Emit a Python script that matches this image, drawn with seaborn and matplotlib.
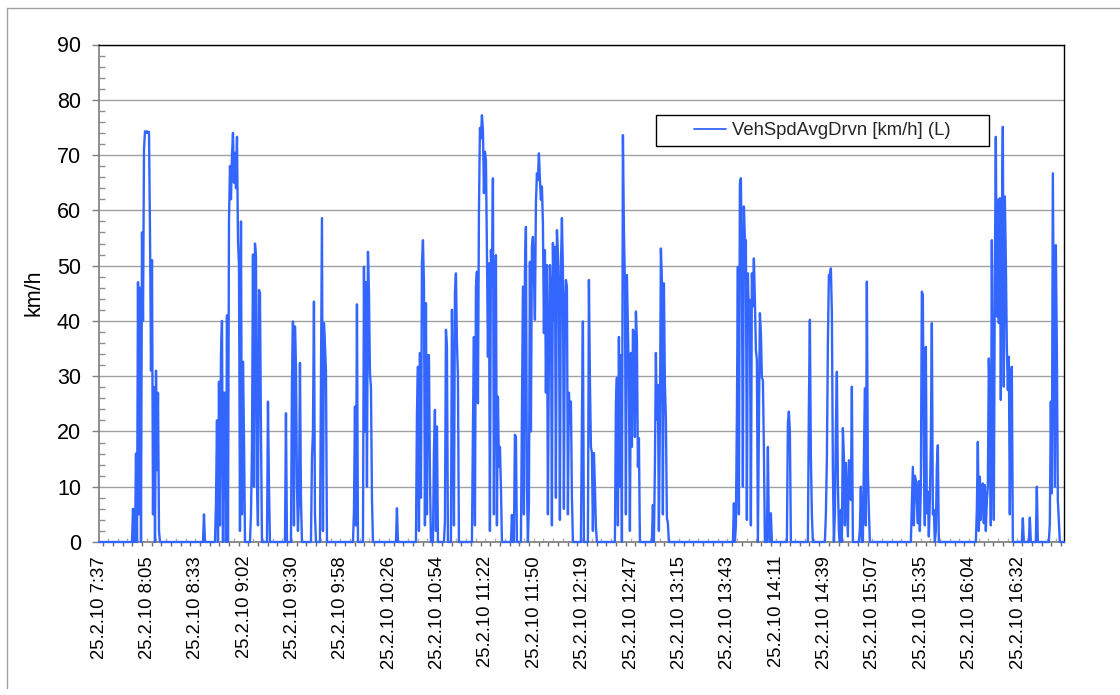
import numpy as np
import pandas as pd
import matplotlib
matplotlib.use("Agg")
import matplotlib.pyplot as plt
from matplotlib.patches import Rectangle
from matplotlib.lines import Line2D
from matplotlib.ticker import MultipleLocator, FixedLocator
import seaborn as sns

# ---------------- data (minutes after 25.2.10 7:37) ----------------
SAMPLE_MIN = 0.583          # logger sample interval in minutes
T_END = 562.6               # end of the record (minutes)

burst_starts = [19.24, 60.62, 67.62, 88.02, 97.93, 108.42, 111.33, 123.57, 128.82,
                148.06, 173.12, 184.78, 194.69, 201.10, 205.18, 217.42, 240.15,
                245.98, 280.37, 285.04, 300.78, 322.34, 369.56, 389.38, 401.04,
                413.28, 423.19, 443.00, 472.73, 511.20, 538.02, 542.10, 546.18,
                553.76]

burst_values = [
    [0, 6, 0, 0, 16, 0, 47, 5, 46, 0, 56, 40, 71, 74.3, 74, 74.3, 74, 74.2, 56, 31,
     51, 5, 28, 0, 31, 13, 27, 2, 0],
    [0, 5, 0],
    [0, 7, 22, 0, 29, 3, 34, 40, 0, 27, 27, 0, 41, 0, 58, 68, 62, 70, 74, 65,
     70.4, 64, 73.3, 54.6, 50, 2, 58, 5, 32.6, 19, 0],
    [0, 5, 17, 52, 10, 54, 51.6, 11, 3, 45.6, 45, 20, 0],
    [0, 25.4, 10, 0],
    [0, 23.3, 0],
    [0, 0, 28.8, 39.9, 3, 39, 32, 10, 2, 8, 32.4, 8, 0],
    [0, 15, 20, 43.5, 5, 0],
    [0, 29.7, 58.6, 2, 39.6, 35.6, 31, 0],
    [0, 5.5, 24.5, 3, 43, 0, 0, 0, 0, 0, 0, 49.8, 20, 47, 10, 52.5, 45, 30.5, 28, 8, 0],
    [0, 6.1, 0],
    [0, 23, 31.7, 2, 34.2, 8, 50.4, 54.6, 46.8, 3, 43.2, 5, 33.8, 33.8, 11.8, 0],
    [0, 16.3, 23.9, 2, 20.9, 0],
    [0, 3.7, 38.4, 35.3, 0],
    [0, 42, 27, 3, 45, 48.6, 36, 30, 0],
    [0, 20.3, 37.1, 3, 46, 48.9, 25.1, 59.5, 74.9, 73, 77.2, 74.5, 63.1, 70.6, 69.1,
     52.8, 33.5, 50.4, 2, 52.8, 46.2, 65.8, 5, 43.8, 51.9, 3, 26.3, 13.6, 17.2, 10, 0],
    [0, 4.9, 0, 0, 19.4, 19, 0],
    [0, 23.9, 46.2, 5, 48.9, 57, 10, 0, 7, 50.7, 20, 53.4, 55.2, 48.6, 40.2, 61.3,
     66.7, 65.5, 70.3, 65.5, 61.9, 64.3, 57.7, 37.8, 52.8, 27, 50.1, 5, 34.2, 50.1,
     45.6, 3, 54.1, 40.2, 53.4, 8, 56.4, 52.3, 45.6, 4, 49.8, 58.6, 49.2, 6, 42.6,
     47.4, 46.2, 5, 27, 21.5, 25.4, 8.2, 0],
    [0, 0, 21.5, 39.9, 0],
    [0, 47.4, 29.3, 17.2, 16.1, 2, 16.1, 10, 2.8, 0],
    [0, 25.1, 29.7, 3, 37.1, 10, 33.8, 0, 73.6, 56.4, 46.8, 5, 48.3, 38.4, 29.3, 2,
     34.2, 17.2, 38.4, 37.8, 19, 41.7, 36.5, 13.6, 18.8, 0],
    [0, 6.7, 0, 13.6, 34.2, 22.1, 28.4, 2, 22, 53.1, 47.4, 5, 46.8, 28.4, 22.4, 4.3, 3.4, 0],
    [0, 7, 0, 3, 22.7, 49.8, 5, 64.9, 65.8, 49.8, 10, 60.7, 54.6, 54.6, 4, 48.6, 39.6,
     43.8, 3, 48.6, 42.6, 51.3, 43.8, 34.7, 33, 0, 20.3, 41.4, 37.8, 29.7, 29.3, 17, 0],
    [0, 17.2, 2, 0, 5.2, 0],
    [0, 21.5, 23.6, 20, 0],
    [0, 24.5, 40.2, 15.2, 5, 0],
    [0, 5, 15, 36, 48.3, 48, 49.5, 41.4, 13, 0, 5.2, 20.6, 30.8, 10.6, 2, 0, 5.8, 0,
     20.6, 15.4, 3, 14.3, 8, 1, 14.8, 11.2, 7.6, 28.1, 0],
    [0, 2.2, 10, 0, 0, 13.6, 27.8, 3, 47.1, 13, 5.8, 0],
    [0, 0, 7, 13.6, 3, 12, 11.2, 7, 3.4, 11, 2, 10, 45.3, 44.7, 15.4, 3, 35.3, 5.2,
     9.1, 1, 7.6, 17.9, 39.6, 5, 5.8, 0, 2, 13.6, 17.5, 0],
    [0, 5.8, 18.1, 2, 11.8, 4, 9.4, 10.6, 3.4, 10.3, 2, 7.6, 10, 33.2, 23.3, 3, 54.6,
     23.3, 4, 48.6, 73.3, 40.8, 61.9, 39.6, 62.2, 25.7, 57, 75.1, 28.1, 62.5, 51,
     35.3, 27.5, 33.5, 5, 29.9, 31.7, 0],
    [0, 4.3, 0],
    [0, 4.4, 0],
    [0, 10, 0],
    [0, 3.4, 25.4, 8.8, 66.7, 39, 10, 53.7, 35.3, 7.6, 4, 0],
]

tick_labels = ['25.2.10 7:37', '25.2.10 8:05', '25.2.10 8:33', '25.2.10 9:02',
               '25.2.10 9:30', '25.2.10 9:58', '25.2.10 10:26', '25.2.10 10:54',
               '25.2.10 11:22', '25.2.10 11:50', '25.2.10 12:19', '25.2.10 12:47',
               '25.2.10 13:15', '25.2.10 13:43', '25.2.10 14:11', '25.2.10 14:39',
               '25.2.10 15:07', '25.2.10 15:35', '25.2.10 16:04', '25.2.10 16:32']
LABEL_STEP_MIN = 28.2
series_name = 'VehSpdAvgDrvn [km/h] (L)'

# ---------------- assemble the series ----------------
times = [0.0]
speeds = [0.0]
for start, vals in zip(burst_starts, burst_values):
    for i, v in enumerate(vals):
        times.append(start + i * SAMPLE_MIN)
        speeds.append(v)
times.append(T_END)
speeds.append(0.0)
df = pd.DataFrame({'t': times, 'speed': speeds})

# ---------------- figure ----------------
sns.set_theme(style='white')
plt.rcParams['font.family'] = ['Liberation Sans', 'DejaVu Sans']

W, H = 1120, 695
fig = plt.figure(figsize=(W / 100, H / 100), dpi=100)
ax = fig.add_axes([99 / W, (H - 542) / H, 965 / W, 497.5 / H])

LINE_COLOR = '#3366ff'
sns.lineplot(data=df, x='t', y='speed', ax=ax, color=LINE_COLOR, linewidth=1.7,
             sort=False, estimator=None, label=series_name, clip_on=False, zorder=5)

ax.set_xlim(0, T_END)
ax.set_ylim(0, 90)

# y axis
ax.yaxis.set_major_locator(MultipleLocator(10))
ax.yaxis.set_minor_locator(MultipleLocator(2))
ax.grid(axis='y', which='major', color='#a0a0a0', linewidth=1.0)
ax.grid(axis='x', visible=False)
ax.tick_params(axis='y', which='major', direction='out', length=5, width=1,
               color='#808080', labelsize=15.5, pad=8, labelcolor='black', left=True)
ax.tick_params(axis='y', which='minor', direction='in', length=4, width=1,
               color='#909090', left=True)
ax.set_ylabel('km/h', fontsize=15.5, labelpad=9, color='black')

# x axis: labels every 28.2 min, dark outer ticks every 5.64 min
label_pos = [k * LABEL_STEP_MIN for k in range(len(tick_labels))]
ax.xaxis.set_major_locator(FixedLocator(label_pos))
ax.set_xticklabels(tick_labels, rotation=90, fontsize=13.3)
minor_step = LABEL_STEP_MIN / 5
minor_pos = list(np.arange(2.5, T_END, minor_step))
ax.xaxis.set_minor_locator(FixedLocator(minor_pos))
ax.tick_params(axis='x', which='major', length=0, pad=10, labelcolor='black', bottom=True)
ax.tick_params(axis='x', which='minor', direction='out', length=3, width=1,
               color='#707070', bottom=True)
ax.set_xlabel('')

# small grey inner marks between the outer ticks
sec = ax.secondary_xaxis('bottom')
sec.xaxis.set_major_locator(FixedLocator([p + minor_step / 2 for p in minor_pos]))
sec.tick_params(axis='x', which='major', direction='in', length=3, width=1,
                color='#b0b0b0', labelbottom=False)
sec.tick_params(axis='x', which='minor', length=0)
for s in sec.spines.values():
    s.set_visible(False)

# spines
for side in ['top', 'right']:
    ax.spines[side].set_color('black')
    ax.spines[side].set_linewidth(1.0)
ax.spines['left'].set_color('#808080')
ax.spines['bottom'].set_color('#808080')
for s in ax.spines.values():
    s.set_visible(True)

# legend (box drawn as a patch, entries centred inside it)
box_x0, box_x1 = (656 - 99) / 965, (989 - 99) / 965
box_y0, box_y1 = (542 - 146) / 497.5, (542 - 115) / 497.5
ax.add_patch(Rectangle((box_x0, box_y0), box_x1 - box_x0, box_y1 - box_y0,
                       transform=ax.transAxes, facecolor='white', edgecolor='black',
                       linewidth=1.0, zorder=6))
leg = ax.legend(loc='center', bbox_to_anchor=((box_x0 + box_x1) / 2, (box_y0 + box_y1) / 2),
                frameon=False, fontsize=13.3, handlelength=1.7, handletextpad=0.35,
                borderpad=0.0, borderaxespad=0.0)
leg.set_zorder(7)
for line in leg.get_lines():
    line.set_linewidth(1.3)

# outer chart-area border (left and top edges visible)
fig.add_artist(Line2D([7 / W, 7 / W], [1 - 8 / H, 1 - 688 / H], color='#a0a0a0',
                      linewidth=1.0, transform=fig.transFigure))
fig.add_artist(Line2D([7 / W, 1.0], [1 - 8 / H, 1 - 8 / H], color='#a0a0a0',
                      linewidth=1.0, transform=fig.transFigure))

fig.savefig('out.png', dpi=100, facecolor='white')
